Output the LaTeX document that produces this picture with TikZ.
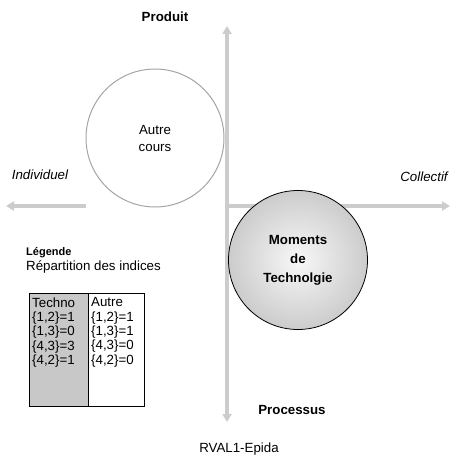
\documentclass[tikz,border=0pt]{standalone}
\usepackage{fontspec}
\setmainfont{Liberation Sans}
\usepackage{xcolor}
\usepackage{tikz}
\usetikzlibrary{arrows.meta}

\definecolor{axisgray}{RGB}{204,204,204}
\definecolor{rimgray}{RGB}{165,165,165}
\definecolor{cellgray}{RGB}{200,200,200}

\begin{document}
\begin{tikzpicture}[x=1pt, y=-1pt,
     every node/.style={inner sep=0pt, font=\fontsize{13.3}{14.3}\selectfont},
     axis/.style={draw=axisgray, line width=3.6pt, -{Triangle[width=9pt,length=8pt]}},
     pole/.style={font=\fontsize{13.3}{14.3}\selectfont\bfseries},
     side/.style={font=\fontsize{13.3}{14.3}\selectfont\itshape},
     cell/.style={draw=black, line width=0.9pt, minimum height=113pt, anchor=north west}]
     \useasboundingbox (0,0) rectangle (451,457);

     \coordinate (O) at (227,206);
     \coordinate (Top) at (227,26);
     \coordinate (Bot) at (227,422);
     \coordinate (Right) at (450,206);
     \coordinate (LStart) at (86,206);
     \coordinate (Left) at (6,206);

     \draw[axis] (O) -- (Top);
     \draw[axis] (O) -- (Bot);
     \draw[axis] (O) -- (Right);
     \draw[axis] (LStart) -- (Left);

     \node[pole] (Produit) at (165,17) {Produit};
     \node[pole] (Processus) at (292,410) {Processus};
     \node[side] (Individuel) at (40,175) {Individuel};
     \node[side] (Collectif) at (424,177) {Collectif};

     \node[circle, draw=rimgray, line width=1pt, fill=white, minimum size=138pt,
           align=center, font=\fontsize{13.3}{17}\selectfont] (Autre) at (155,138) {Autre\\cours};
     \node[circle, draw=black, line width=0.8pt, inner color=black!3, outer color=black!20,
           minimum size=139pt, align=center, font=\fontsize{13.3}{19}\selectfont\bfseries]
           (Techno) at (298,260) {Moments\\de\\Technolgie};

     \node[anchor=west, font=\fontsize{11}{12}\selectfont\bfseries] (Legende) at (26,253) {Légende};
     \node[anchor=west] (Repartition) at (26,267) {Répartition des indices};

     \node[cell, fill=cellgray, minimum width=59pt] (ColTechno) at (29,293) {};
     \node[cell, fill=white, minimum width=56pt] (ColAutre) at (88,293) {};
     \node[anchor=north west, align=left] (TxtTechno) at (32,297.5)
          {Techno\\\{1,2\}=1\\\{1,3\}=0\\\{4,3\}=3\\\{4,2\}=1};
     \node[anchor=north west, align=left] (TxtAutre) at (91,297.5)
          {Autre\\\{1,2\}=1\\\{1,3\}=1\\\{4,3\}=0\\\{4,2\}=0};

     \node (Source) at (239,449) {RVAL1-Epida};
 \end{tikzpicture}
\end{document}
